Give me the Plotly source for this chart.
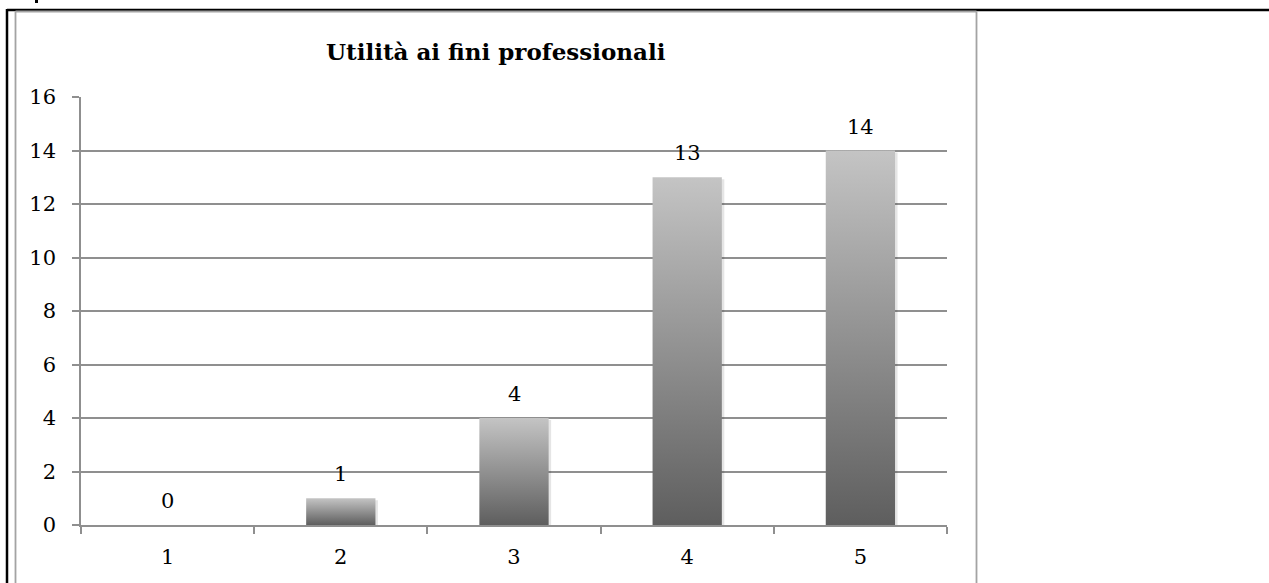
import plotly.graph_objects as go

# ---- data ----
categories = [1, 2, 3, 4, 5]
values = [0, 1, 4, 13, 14]
tick_labels = ["1", "2", "3", "4", "5"]
title_text = "Utilità ai fini professionali"

# ---- layout geometry (pixels) ----
W, H = 1269, 583
L, R, T, B = 81, 947, 97, 525
pw, ph = R - L, B - T

def px_x(px):
    return (px - L) / pw

def px_y(py):
    return (B - py) / ph

FONT = "DejaVu Serif"
GRID = "#8f8f8f"
BAR_W = 0.40
FS = 21
# shadow offset in pixels, converted to data units
SDX = 2.5 / (pw / 5)
SDY = 2.0 / (ph / 16)

fig = go.Figure()

# soft shadows behind the bars
for c, v in zip(categories, values):
    if v <= 0:
        continue
    x0, x1 = c - BAR_W / 2 + SDX, c + BAR_W / 2 + SDX
    fig.add_trace(go.Scatter(
        x=[x0, x1, x1, x0, x0], y=[-SDY, -SDY, v - SDY, v - SDY, -SDY],
        mode="lines", line=dict(width=0, color="rgba(0,0,0,0)"),
        fill="toself", fillcolor="rgba(0,0,0,0.10)",
        hoverinfo="skip", showlegend=False, cliponaxis=False,
    ))

# gradient bars drawn as filled polygons built from the data values
for c, v in zip(categories, values):
    x0, x1 = c - BAR_W / 2, c + BAR_W / 2
    fig.add_trace(go.Scatter(
        x=[x0, x1, x1, x0, x0], y=[0, 0, v, v, 0],
        mode="lines", line=dict(width=0, color="rgba(0,0,0,0)"),
        fill="toself",
        fillgradient=dict(type="vertical",
                          colorscale=[[0, "#5e5e5e"], [1, "#c4c4c4"]]),
        hoverinfo="skip", showlegend=False,
    ))

# data labels
for c, v in zip(categories, values):
    fig.add_annotation(x=c, y=v, text=str(v), showarrow=False,
                       xref="x", yref="y", yanchor="middle", yshift=24,
                       font=dict(family=FONT, size=FS, color="black"))

# title
fig.add_annotation(x=px_x(496), y=px_y(52), xref="paper", yref="paper",
                   text="<b>" + title_text + "</b>", showarrow=False,
                   xanchor="center", yanchor="middle",
                   font=dict(family=FONT, size=23, color="black"))

shapes = []
# page frame (black)
shapes.append(dict(type="line", xref="paper", yref="paper",
                   x0=px_x(7), x1=px_x(W + 5), y0=px_y(10), y1=px_y(10),
                   line=dict(color="black", width=2.5)))
shapes.append(dict(type="line", xref="paper", yref="paper",
                   x0=px_x(7), x1=px_x(7), y0=px_y(9), y1=px_y(H + 5),
                   line=dict(color="black", width=2.5)))
shapes.append(dict(type="rect", xref="paper", yref="paper",
                   x0=px_x(35), x1=px_x(38), y0=px_y(0), y1=px_y(3),
                   line=dict(width=0), fillcolor="black"))
# chart border (gray)
shapes.append(dict(type="line", xref="paper", yref="paper",
                   x0=px_x(15.5), x1=px_x(976.5), y0=px_y(11.5), y1=px_y(11.5),
                   line=dict(color="#a3a3a3", width=1.8)))
shapes.append(dict(type="line", xref="paper", yref="paper",
                   x0=px_x(15.5), x1=px_x(15.5), y0=px_y(11.5), y1=px_y(H + 5),
                   line=dict(color="#a3a3a3", width=1.8)))
shapes.append(dict(type="line", xref="paper", yref="paper",
                   x0=px_x(976.5), x1=px_x(976.5), y0=px_y(11.5), y1=px_y(H + 5),
                   line=dict(color="#a3a3a3", width=1.8)))

fig.update_layout(
    width=W, height=H,
    margin=dict(l=L, r=W - R, t=T, b=H - B, pad=0),
    paper_bgcolor="white", plot_bgcolor="white",
    showlegend=False,
    shapes=shapes,
    font=dict(family=FONT, size=FS, color="black"),
)

fig.update_xaxes(
    range=[0.5, 5.5], tickmode="array", tickvals=categories, ticktext=tick_labels,
    ticks="", showgrid=False, zeroline=False,
    showline=True, linecolor=GRID, linewidth=1.5,
    ticklabelstandoff=12,
    minor=dict(tickmode="linear", tick0=0.5, dtick=1, ticks="outside",
               ticklen=7, tickcolor=GRID, tickwidth=1.5, showgrid=False),
    tickfont=dict(family=FONT, size=FS, color="black"),
    fixedrange=True,
)
fig.update_yaxes(
    range=[0, 16], tickmode="linear", tick0=0, dtick=2,
    showgrid=True, gridcolor=GRID, gridwidth=1.5,
    zeroline=False, showline=True, linecolor=GRID, linewidth=1.5,
    ticks="outside", ticklen=7, tickcolor=GRID, tickwidth=1.5,
    ticklabelstandoff=12,
    tickfont=dict(family=FONT, size=FS, color="black"),
    fixedrange=True,
)

fig.write_html("out.html", config={"displayModeBar": False},
               post_script="document.body.style.margin='0';"
                           "document.body.style.overflow='hidden';")
